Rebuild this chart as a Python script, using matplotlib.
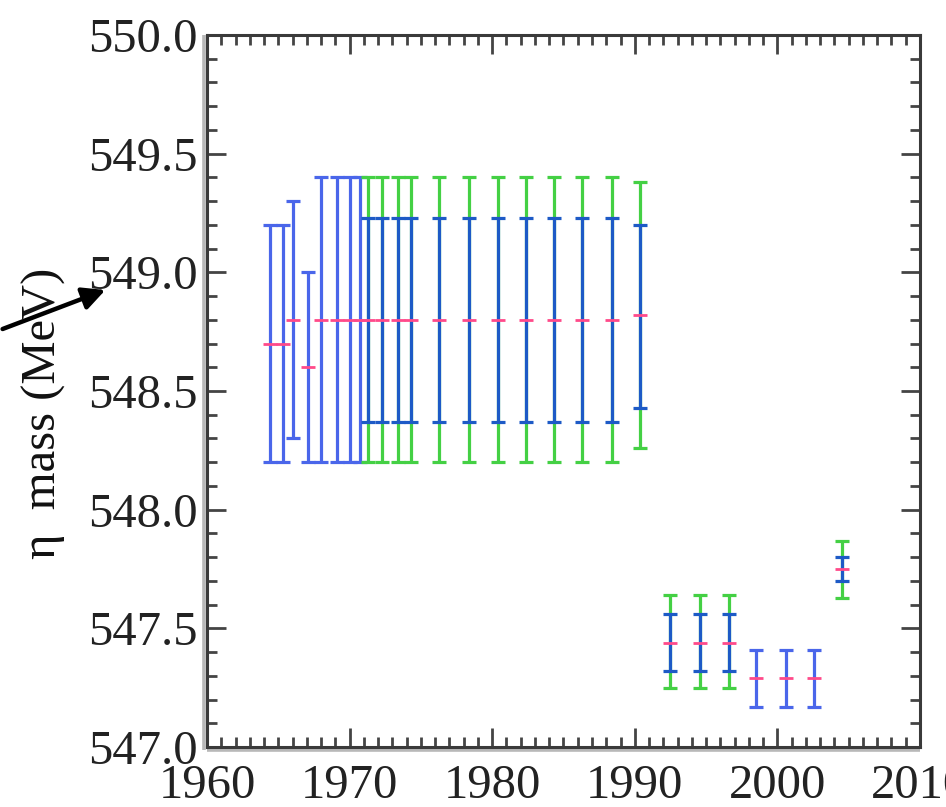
import matplotlib
matplotlib.use("Agg")
import matplotlib.pyplot as plt
import matplotlib.ticker as ticker
from matplotlib.transforms import offset_copy

# single measurements (blue bars)
year_single = [1964.4, 1965.3, 1966.0, 1967.1, 1968.0, 1969.1, 1970.0, 1970.7,
               1998.5, 2000.6, 2002.6]
mass_single = [548.70, 548.70, 548.80, 548.60, 548.80, 548.80, 548.80, 548.80,
               547.29, 547.29, 547.29]
low_single = [548.20, 548.20, 548.30, 548.20, 548.20, 548.20, 548.20, 548.20,
              547.17, 547.17, 547.17]
high_single = [549.20, 549.20, 549.30, 549.00, 549.40, 549.40, 549.40, 549.40,
               547.41, 547.41, 547.41]

# averages: green outer bar with blue inner bar
year_avg = [1971.3, 1972.3, 1973.4, 1974.3, 1976.3, 1978.4, 1980.4, 1982.4,
            1984.3, 1986.3, 1988.4, 1990.4, 1992.5, 1994.6, 1996.6, 2004.5]
mass_avg = [548.80, 548.80, 548.80, 548.80, 548.80, 548.80, 548.80, 548.80,
            548.80, 548.80, 548.80, 548.82, 547.44, 547.44, 547.44, 547.75]
inner_low = [548.37, 548.37, 548.37, 548.37, 548.37, 548.37, 548.37, 548.37,
             548.37, 548.37, 548.37, 548.43, 547.32, 547.32, 547.32, 547.70]
inner_high = [549.23, 549.23, 549.23, 549.23, 549.23, 549.23, 549.23, 549.23,
              549.23, 549.23, 549.23, 549.20, 547.56, 547.56, 547.56, 547.80]
outer_low = [548.20, 548.20, 548.20, 548.20, 548.20, 548.20, 548.20, 548.20,
             548.20, 548.20, 548.20, 548.26, 547.25, 547.25, 547.25, 547.63]
outer_high = [549.40, 549.40, 549.40, 549.40, 549.40, 549.40, 549.40, 549.40,
              549.40, 549.40, 549.40, 549.38, 547.64, 547.64, 547.64, 547.87]

plt.rcParams['font.family'] = ['Liberation Serif', 'DejaVu Serif']

blue = '#4a66ea'
dark_blue = '#1d5ac6'
green = '#44d044'
pink = '#ff4a8a'


def bar(ax, x, c, lo, hi, color, z):
    err = [[ci - l for ci, l in zip(c, lo)], [h - ci for ci, h in zip(c, hi)]]
    ax.errorbar(x, c, yerr=err, fmt='none', ecolor=color, elinewidth=2.3,
                capsize=4.8, capthick=2.3, zorder=z)


fig = plt.figure(figsize=(9.46, 8.07), dpi=100)
ax = fig.add_axes([0.2188, 0.0743, 0.7537, 0.8823])

bar(ax, year_single, mass_single, low_single, high_single, blue, 3)
bar(ax, year_avg, mass_avg, outer_low, outer_high, green, 3)
bar(ax, year_avg, mass_avg, inner_low, inner_high, dark_blue, 4)
ax.plot(year_single + year_avg, mass_single + mass_avg, ls='none', marker='_',
        ms=9.5, mew=2.0, color=pink, zorder=5)

ax.set_xlim(1960, 2010)
ax.set_ylim(547.0, 550.0)
ax.xaxis.set_major_locator(ticker.MultipleLocator(10))
ax.xaxis.set_minor_locator(ticker.MultipleLocator(1))
ax.yaxis.set_major_locator(ticker.MultipleLocator(0.5))
ax.yaxis.set_minor_locator(ticker.MultipleLocator(0.1))
ax.yaxis.set_major_formatter(ticker.StrMethodFormatter("{x:.1f}"))

ax.tick_params(which='both', direction='in', top=True, right=True,
               color='#444444', width=2.0)
ax.tick_params(which='major', length=14)
ax.tick_params(which='minor', length=7.5)
ax.tick_params(axis='both', labelsize=35, labelcolor='#222222')
ax.tick_params(axis='x', pad=12)
ax.tick_params(axis='y', pad=7)

for s in ax.spines.values():
    s.set_color('#3a3a3a')
    s.set_linewidth(2.2)

# light grey shadow along left and bottom frame
tl = offset_copy(ax.transAxes, fig=fig, x=-3, y=0, units='dots')
ax.plot([0, 0], [-0.004, 1], transform=tl, color='#b8b8b8', lw=2.6,
        clip_on=False, solid_capstyle='butt')
tb = offset_copy(ax.transAxes, fig=fig, x=0, y=-3, units='dots')
ax.plot([0, 1], [0, 0], transform=tb, color='#b8b8b8', lw=2.6,
        clip_on=False, solid_capstyle='butt')

fig.text(0.046, 0.488, "η  mass (MeV)", rotation=90, fontsize=35,
         ha='center', va='center', color='#111111')

fig.add_artist(matplotlib.patches.FancyArrowPatch(
    (0 / 946, 1 - 330 / 807), (108 / 946, 1 - 289 / 807),
    transform=fig.transFigure, arrowstyle='-|>', mutation_scale=34,
    lw=3.2, color='black'))

fig.savefig('out.png', dpi=100)
